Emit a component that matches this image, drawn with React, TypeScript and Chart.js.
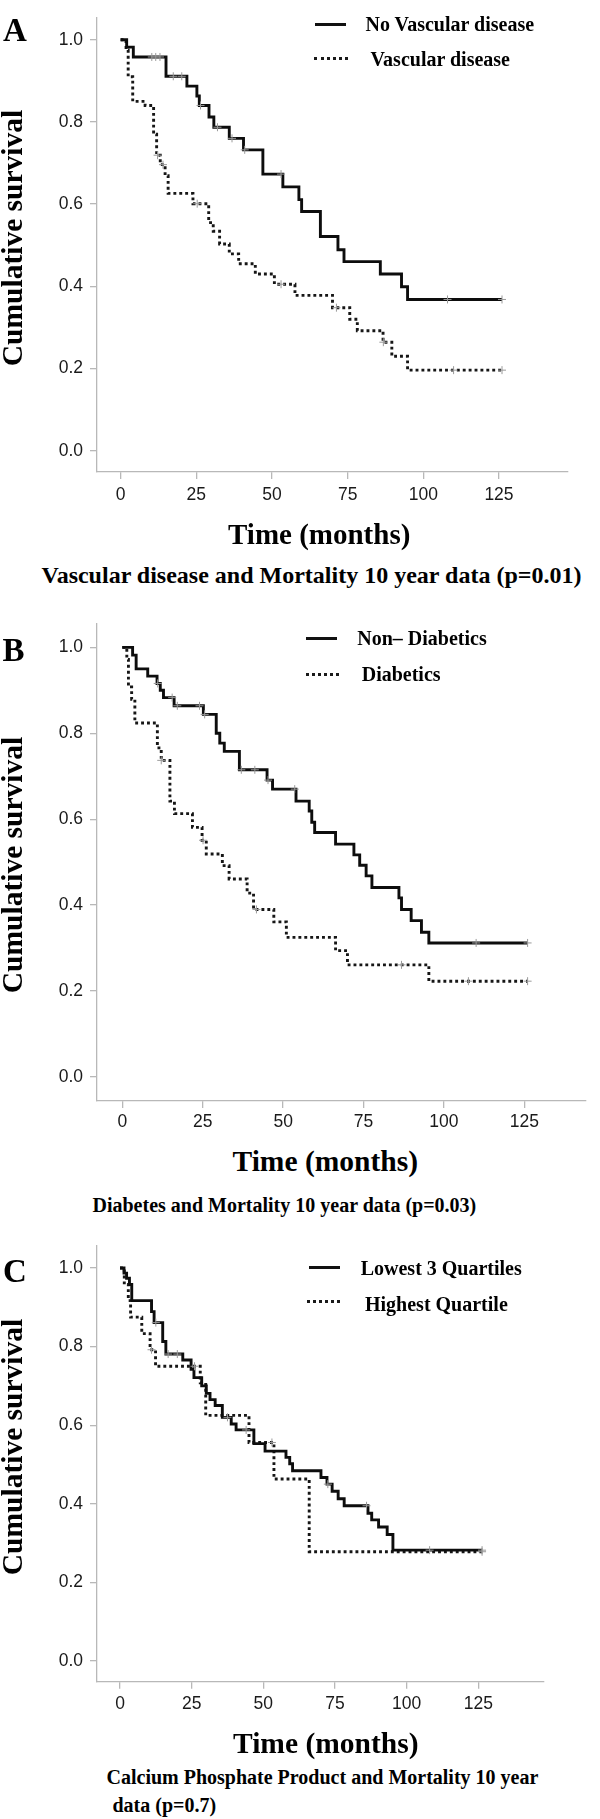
import React, { useEffect, useRef } from "react";
import { Chart, registerables } from "chart.js";

Chart.register(...registerables);

// ---------- shared ticks ----------
const X_TICKS = [0, 25, 50, 75, 100, 125];
const Y_TICKS = [0, 0.2, 0.4, 0.6, 0.8, 1.0];

// ---------- Panel A: Vascular disease ----------
const A_NOVASC_T = [0, 2.0, 4.2, 15.0, 21.9, 25.2, 26.0, 29.2, 30.8, 35.9, 40.6, 47.0, 53.6, 58.9, 59.8, 66.0, 71.8, 73.8, 85.8, 92.8, 94.8, 126];
const A_NOVASC_S = [1, 0.982, 0.958, 0.911, 0.887, 0.863, 0.840, 0.812, 0.787, 0.760, 0.732, 0.673, 0.642, 0.611, 0.582, 0.521, 0.489, 0.460, 0.430, 0.399, 0.368, 0.368];
const A_NOVASC_CENS = [10.3, 11.6, 13.0, 17.4, 20.2, 26.4, 32.0, 36.8, 41.0, 53.0, 108, 126];

const A_VASC_T = [0, 1.8, 2.5, 4.0, 8.1, 10.9, 11.9, 13.1, 14.7, 15.7, 23.9, 29.1, 30.6, 32.7, 35.9, 39.0, 44.5, 50.8, 57.6, 70.0, 75.7, 78.2, 86.7, 89.6, 94.8, 126];
const A_VASC_S = [1, 0.975, 0.91, 0.85, 0.84, 0.77, 0.719, 0.696, 0.669, 0.626, 0.601, 0.555, 0.534, 0.503, 0.479, 0.455, 0.430, 0.405, 0.378, 0.348, 0.320, 0.292, 0.264, 0.230, 0.196, 0.196];
const A_VASC_CENS = [12.2, 14.0, 25.3, 53.0, 71.3, 86.8, 110, 126];

// ---------- Panel B: Diabetes ----------
const B_NONDM_T = [0, 3.2, 4.3, 7.9, 10.8, 11.8, 12.8, 16.1, 25.2, 29.2, 30.3, 31.7, 36.4, 45.0, 46.7, 54.0, 58.1, 58.9, 59.8, 66.3, 72.0, 73.8, 75.8, 77.6, 86.0, 86.8, 89.8, 93.0, 95.3, 126];
const B_NONDM_S = [1, 0.982, 0.950, 0.933, 0.916, 0.900, 0.883, 0.864, 0.844, 0.800, 0.777, 0.758, 0.715, 0.691, 0.670, 0.642, 0.619, 0.593, 0.569, 0.542, 0.517, 0.493, 0.468, 0.441, 0.417, 0.390, 0.364, 0.337, 0.312, 0.312];
const B_NONDM_CENS = [11.0, 15.5, 17.1, 24.0, 25.6, 37.0, 41.2, 45.3, 53.6, 110, 126];

const B_DM_T = [0, 1.4, 1.9, 2.9, 3.9, 10.9, 12.1, 14.8, 16.2, 21.8, 24.8, 26.1, 31.1, 33.2, 38.8, 40.8, 47.1, 51.0, 66.3, 70.0, 95.3, 126];
const B_DM_S = [1, 0.972, 0.908, 0.879, 0.824, 0.766, 0.737, 0.642, 0.613, 0.581, 0.551, 0.519, 0.492, 0.461, 0.428, 0.390, 0.361, 0.325, 0.294, 0.261, 0.223, 0.223];
const B_DM_CENS = [12.1, 25.1, 41.7, 86.8, 107.6, 126];

// ---------- Panel C: Calcium phosphate product ----------
const C_LOW_T = [0, 1.4, 2.3, 3.3, 4.1, 11.0, 11.9, 14.9, 16.0, 21.9, 24.8, 25.8, 28.5, 30.1, 31.4, 33.2, 35.7, 38.8, 40.5, 46.7, 50.6, 57.9, 59.2, 60.2, 70.1, 72.2, 74.0, 76.1, 78.2, 86.5, 87.8, 90.2, 93.2, 95.2, 126.3];
const C_LOW_S = [1, 0.987, 0.974, 0.958, 0.917, 0.889, 0.861, 0.813, 0.781, 0.766, 0.742, 0.721, 0.700, 0.681, 0.665, 0.650, 0.620, 0.603, 0.588, 0.553, 0.534, 0.518, 0.502, 0.484, 0.467, 0.450, 0.432, 0.413, 0.395, 0.376, 0.359, 0.341, 0.322, 0.282, 0.282];
const C_LOW_CENS = [12.5, 16.8, 20.0, 37.5, 44.0, 72.5, 86.0, 108, 126.3];

const C_HIGH_T = [0, 1.5, 2.9, 3.7, 7.6, 10.5, 12.4, 28.0, 29.9, 45.0, 53.7, 66.0, 126.3];
const C_HIGH_S = [1, 0.958, 0.917, 0.875, 0.833, 0.792, 0.750, 0.708, 0.625, 0.556, 0.463, 0.278, 0.278];
const C_HIGH_CENS = [11.0, 26.0, 53.0, 126.3];

// ---------- legend / caption texts ----------
const A_LABELS = ["No Vascular disease", "Vascular disease"];
const B_LABELS = ["Non\u2013 Diabetics", "Diabetics"];
const C_LABELS = ["Lowest 3 Quartiles", "Highest Quartile"];
const A_CAPTION = "Vascular disease and Mortality 10 year data (p=0.01)";
const B_CAPTION = "Diabetes and Mortality 10 year data (p=0.03)";
const C_CAPTION_1 = "Calcium Phosphate Product and Mortality 10 year";
const C_CAPTION_2 = "data (p=0.7)";
const X_TITLE = "Time (months)";
const Y_TITLE = "Cumulative survival";

const SERIF = '"Liberation Serif", "Times New Roman", Times, serif';
const SANS = '"Liberation Sans", Arial, Helvetica, sans-serif';

function stepAt(T: number[], S: number[], t: number) {
  let v = S[0];
  for (let i = 0; i < T.length; i++) if (T[i] <= t) v = S[i];
  return v;
}

function curve(T: number[], S: number[]) {
  return T.map((t, i) => ({ x: t, y: S[i] }));
}

function censors(T: number[], S: number[], C: number[]) {
  return C.map((t) => ({ x: t, y: stepAt(T, S, t) }));
}

type PanelCfg = {
  canvasTop: number;
  canvasH: number;
  padTop: number;
  padRight: number;
  xAxisH: number;
  xMin: number;
  xMax: number;
  yMin: number;
  yMax: number;
  xTickPad: number;
  solid: { T: number[]; S: number[]; C: number[] };
  dotted: { T: number[]; S: number[]; C: number[] };
};

const PANELS: PanelCfg[] = [
  {
    canvasTop: 0, canvasH: 520, padTop: 2, padRight: 32, xAxisH: 48,
    xMin: -7.8, xMax: 147.8, yMin: -0.0518, yMax: 1.054, xTickPad: 6,
    solid: { T: A_NOVASC_T, S: A_NOVASC_S, C: A_NOVASC_CENS },
    dotted: { T: A_VASC_T, S: A_VASC_S, C: A_VASC_CENS },
  },
  {
    canvasTop: 600, canvasH: 540, padTop: 23.3, padRight: 14.5, xAxisH: 39,
    xMin: -7.87, xMax: 144.0, yMin: -0.0559, yMax: 1.056, xTickPad: 4,
    solid: { T: B_NONDM_T, S: B_NONDM_S, C: B_NONDM_CENS },
    dotted: { T: B_DM_T, S: B_DM_S, C: B_DM_CENS },
  },
  {
    canvasTop: 1220, canvasH: 510, padTop: 26, padRight: 56, xAxisH: 48.3,
    xMin: -8.02, xMax: 147.9, yMin: -0.0527, yMax: 1.056, xTickPad: 5,
    solid: { T: C_LOW_T, S: C_LOW_S, C: C_LOW_CENS },
    dotted: { T: C_HIGH_T, S: C_HIGH_S, C: C_HIGH_CENS },
  },
];

const AXIS_GRAY = "#b8b8b8";

function Panel({ cfg }: { cfg: PanelCfg }) {
  const ref = useRef<HTMLCanvasElement | null>(null);
  useEffect(() => {
    if (!ref.current) return;
    const cross = {
      type: "line" as const,
      showLine: false,
      pointStyle: "cross" as const,
      pointRadius: 4,
      pointBorderColor: "#9a9a9a",
      pointBorderWidth: 1,
      order: 0,
    };
    const chart = new Chart(ref.current, {
      type: "line",
      data: {
        datasets: [
          { ...cross, data: censors(cfg.solid.T, cfg.solid.S, cfg.solid.C) },
          { ...cross, data: censors(cfg.dotted.T, cfg.dotted.S, cfg.dotted.C) },
          {
            data: curve(cfg.solid.T, cfg.solid.S),
            stepped: "before",
            borderColor: "#0d0d0d",
            borderWidth: 2.9,
            pointRadius: 0,
            fill: false,
            order: 1,
          },
          {
            data: curve(cfg.dotted.T, cfg.dotted.S),
            stepped: "before",
            borderColor: "#161616",
            borderWidth: 2.9,
            borderDash: [2.9, 3],
            pointRadius: 0,
            fill: false,
            order: 1,
          },
        ] as any,
      },
      options: {
        animation: false,
        responsive: false,
        devicePixelRatio: 1,
        events: [],
        layout: { padding: { left: 0, top: cfg.padTop, right: cfg.padRight, bottom: 0 } },
        plugins: { legend: { display: false }, tooltip: { enabled: false }, title: { display: false } },
        scales: {
          x: {
            type: "linear",
            min: cfg.xMin,
            max: cfg.xMax,
            afterBuildTicks: (axis: any) => {
              axis.ticks = X_TICKS.map((v) => ({ value: v }));
            },
            afterFit: (scale: any) => {
              scale.height = cfg.xAxisH;
            },
            grid: { drawOnChartArea: false, drawTicks: true, tickLength: 7, color: AXIS_GRAY, lineWidth: 1.3 },
            border: { display: true, color: AXIS_GRAY, width: 1.3 },
            ticks: {
              autoSkip: false,
              maxRotation: 0,
              padding: cfg.xTickPad,
              color: "#1a1a1a",
              font: { family: SANS, size: 17.5 },
              callback: (v: any) => String(v),
            },
          },
          y: {
            type: "linear",
            min: cfg.yMin,
            max: cfg.yMax,
            afterBuildTicks: (axis: any) => {
              axis.ticks = Y_TICKS.map((v) => ({ value: v }));
            },
            afterFit: (scale: any) => {
              scale.width = 97;
            },
            grid: { drawOnChartArea: false, drawTicks: true, tickLength: 7, color: AXIS_GRAY, lineWidth: 1.3 },
            border: { display: true, color: AXIS_GRAY, width: 1.3 },
            ticks: {
              autoSkip: false,
              padding: 7,
              color: "#1a1a1a",
              font: { family: SANS, size: 17.5 },
              callback: (v: any) => Number(v).toFixed(1),
            },
          },
        },
      } as any,
    });
    return () => chart.destroy();
  }, [cfg]);
  return (
    <canvas
      ref={ref}
      width={600}
      height={cfg.canvasH}
      style={{ position: "absolute", left: 0, top: cfg.canvasTop, width: 600, height: cfg.canvasH }}
    />
  );
}

function Txt({ left, top, size, children }: { left: number; top: number; size: number; children: React.ReactNode }) {
  return (
    <div
      style={{
        position: "absolute",
        left,
        top,
        fontFamily: SERIF,
        fontWeight: "bold",
        fontSize: size,
        lineHeight: 1,
        whiteSpace: "nowrap",
        color: "#000",
      }}
    >
      {children}
    </div>
  );
}

function YTitle({ cy }: { cy: number }) {
  return (
    <div
      style={{
        position: "absolute",
        left: 13,
        top: cy,
        transform: "translate(-50%, -50%) rotate(-90deg)",
        fontFamily: SERIF,
        fontWeight: "bold",
        fontSize: 29.5,
        lineHeight: 1,
        whiteSpace: "nowrap",
        color: "#000",
      }}
    >
      {Y_TITLE}
    </div>
  );
}

function LegendLine({ left, width, cy, dotted }: { left: number; width: number; cy: number; dotted?: boolean }) {
  return (
    <div
      style={{
        position: "absolute",
        left,
        top: cy - 1.5,
        width,
        height: 0,
        borderTop: dotted ? "3px dotted #1a1a1a" : "3px solid #111",
      }}
    />
  );
}

// baseline -> top for line-height 1 Liberation Serif
const top = (baseline: number, size: number) => baseline - 0.8375 * size;

export default function App() {
  return (
    <div style={{ position: "absolute", left: 0, top: 0, width: 600, height: 1819, background: "#fff", overflow: "hidden" }}>
      {PANELS.map((p, i) => (
        <Panel key={i} cfg={p} />
      ))}

      {/* Panel A texts */}
      <Txt left={3} top={top(41.7, 33)} size={33}>A</Txt>
      <YTitle cy={237.5} />
      <Txt left={228} top={top(544, 29)} size={29}>{X_TITLE}</Txt>
      <Txt left={41.5} top={top(583.3, 24)} size={24}>{A_CAPTION}</Txt>
      <LegendLine left={315} width={31} cy={24} />
      <LegendLine left={314} width={34} cy={58.5} dotted />
      <Txt left={365.5} top={top(30.8, 20)} size={20}>{A_LABELS[0]}</Txt>
      <Txt left={370.5} top={top(65.7, 20)} size={20}>{A_LABELS[1]}</Txt>

      {/* Panel B texts */}
      <Txt left={2.5} top={top(661.7, 33)} size={33}>B</Txt>
      <YTitle cy={865} />
      <Txt left={232.5} top={top(1171.7, 29.5)} size={29.5}>{X_TITLE}</Txt>
      <Txt left={92.5} top={top(1211.7, 20)} size={20}>{B_CAPTION}</Txt>
      <LegendLine left={306} width={31} cy={638.3} />
      <LegendLine left={306} width={33} cy={674} dotted />
      <Txt left={357.3} top={top(645, 20)} size={20}>{B_LABELS[0]}</Txt>
      <Txt left={361.7} top={top(680.7, 20)} size={20}>{B_LABELS[1]}</Txt>

      {/* Panel C texts */}
      <Txt left={3} top={top(1283, 33)} size={33}>C</Txt>
      <YTitle cy={1447} />
      <Txt left={233} top={top(1753.3, 29.5)} size={29.5}>{X_TITLE}</Txt>
      <Txt left={106.5} top={top(1783.3, 20)} size={20}>{C_CAPTION_1}</Txt>
      <Txt left={112.5} top={top(1811.7, 20)} size={20}>{C_CAPTION_2}</Txt>
      <LegendLine left={309.3} width={31} cy={1267.7} />
      <LegendLine left={307.3} width={33} cy={1301.7} dotted />
      <Txt left={360.7} top={top(1275, 20)} size={20}>{C_LABELS[0]}</Txt>
      <Txt left={365} top={top(1310.7, 20)} size={20}>{C_LABELS[1]}</Txt>
    </div>
  );
}
